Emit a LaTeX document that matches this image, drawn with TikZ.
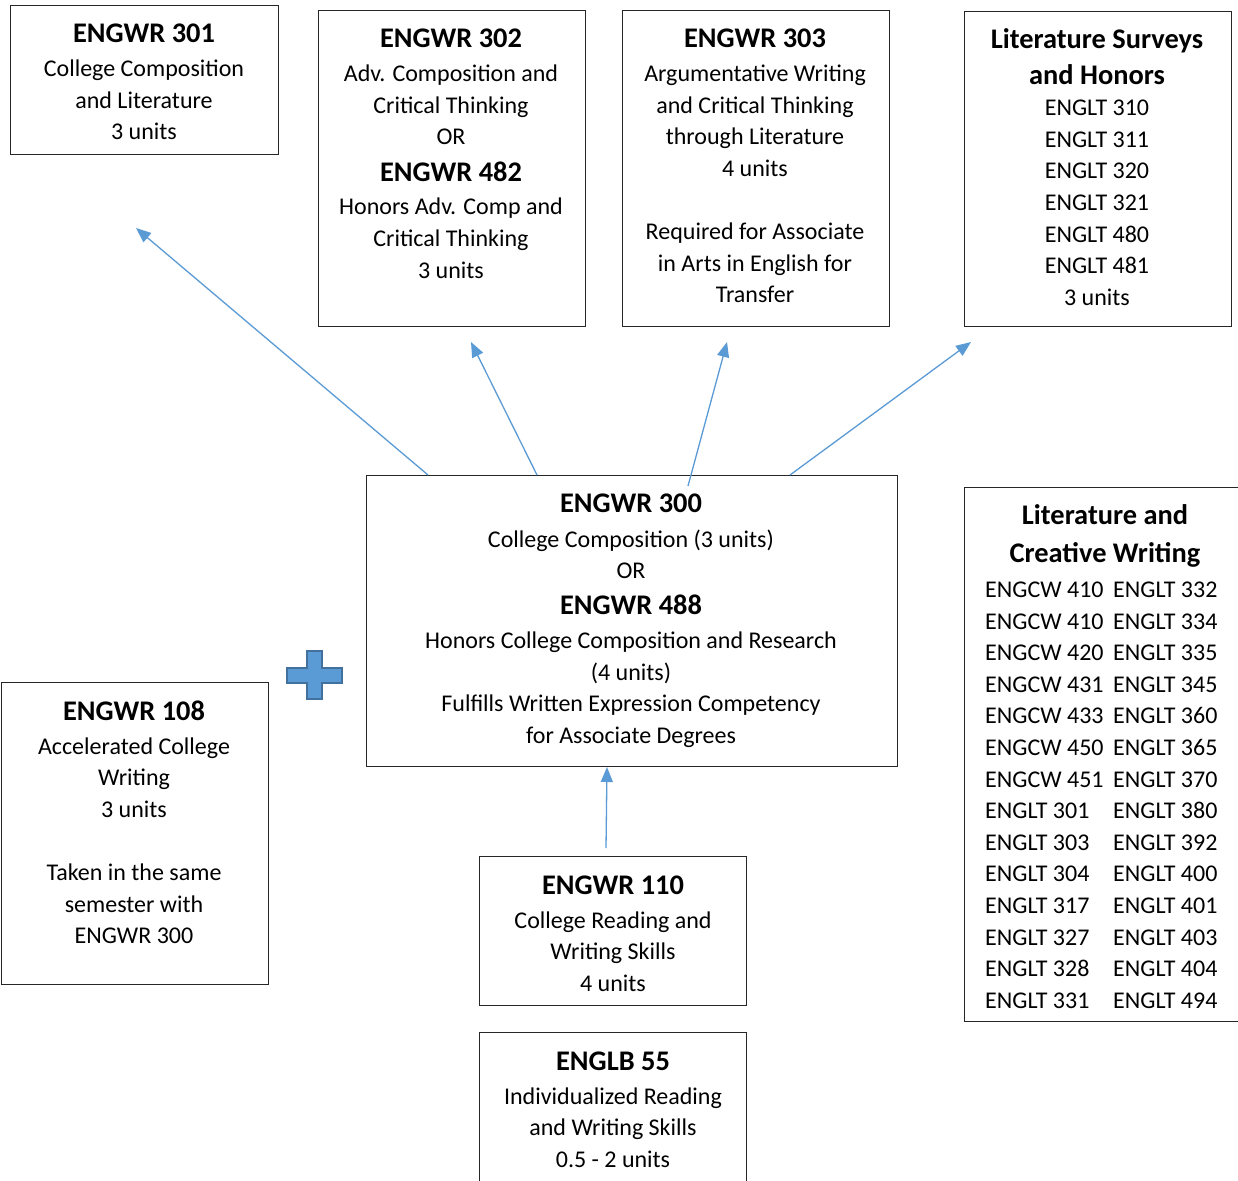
\documentclass[tikz,border=0pt]{standalone}
\usepackage{fontspec}
\setmainfont{Carlito}
\usetikzlibrary{arrows.meta}
\definecolor{arrowblue}{HTML}{5B9BD5}
\definecolor{plusedge}{HTML}{41719C}
\newcommand\hd{\fontsize{28.4}{31.6}\selectfont\bfseries}
\begin{document}
\begin{tikzpicture}[x=1pt,y=-1pt,
  box/.style={draw=black!85, line width=1.2pt, rectangle, anchor=north west, inner sep=0pt},
  txt/.style={inner sep=0pt, anchor=base, font=\fontsize{24}{31.6}\selectfont},
  col/.style={inner sep=0pt, anchor=base west, font=\fontsize{24}{31.6}\selectfont},
  link/.style={draw=arrowblue, line width=1.3pt, -{Triangle[length=15pt,width=12pt]}}]
\useasboundingbox (0,0) rectangle (1238,1180);
\clip (0,0) rectangle (1238,1180);
\fill[white] (0,0) rectangle (1238,1180);

% boxes
\node[box, minimum width=268pt, minimum height=149pt] (b301) at (10,5) {};
\node[box, minimum width=267pt, minimum height=316pt] (b302) at (318,10) {};
\node[box, minimum width=267pt, minimum height=316pt] (b303) at (622,10) {};
\node[box, minimum width=267pt, minimum height=315pt] (bsurv) at (964,11) {};
\node[box, minimum width=531pt, minimum height=291pt] (b300) at (366,475) {};
\node[box, minimum width=290pt, minimum height=534pt] (blcw) at (964,487) {};
\node[box, minimum width=267pt, minimum height=302pt] (b108) at (1,682) {};
\node[box, minimum width=267pt, minimum height=149pt] (b110) at (479,856) {};
\node[box, minimum width=267pt, minimum height=170pt] (b55) at (479,1032) {};

% texts
\node[txt] (t301) at (144,43) {\begin{tabular}[t]{@{}c@{}}{\hd ENGWR 301}\\[2pt]
College Composition\\ and Literature\\ 3 units\end{tabular}};

\node[txt] (t302) at (451,48) {\begin{tabular}[t]{@{}c@{}}{\hd ENGWR 302}\\[2pt]
Adv. Composition and\\ Critical Thinking\\ OR\\[5pt] {\hd ENGWR 482}\\[2pt]
Honors Adv. Comp and\\ Critical Thinking\\ 3 units\end{tabular}};

\node[txt] (t303) at (755,48) {\begin{tabular}[t]{@{}c@{}}{\hd ENGWR 303}\\[2pt]
Argumentative Writing\\ and Critical Thinking\\ through Literature\\ 4 units\\ \\
Required for Associate\\ in Arts in English for\\ Transfer\end{tabular}};

\node[txt] (tsurv) at (1097,49) {\begin{tabular}[t]{@{}c@{}}{\hd Literature Surveys}\\[4.4pt]
{\hd and Honors}\\[-1pt] ENGLT 310\\ ENGLT 311\\ ENGLT 320\\ ENGLT 321\\ ENGLT 480\\ ENGLT 481\\ 3 units\end{tabular}};

\node[txt] (t300) at (631,512) {\begin{tabular}[t]{@{}c@{}}{\hd ENGWR 300}\\[3.5pt]
College Composition (3 units)\\[-0.5pt] OR\\[5pt] {\hd ENGWR 488}\\[2pt]
Honors College Composition and Research\\ (4 units)\\
Fulfills Written Expression Competency\\ for Associate Degrees\end{tabular}};

\node[txt] (tlcw) at (1105,524) {\begin{tabular}[t]{@{}c@{}}{\hd Literature and}\\[6.4pt]
{\hd Creative Writing}\end{tabular}};
\node[col] (lcol) at (985,597.5) {\begin{tabular}[t]{@{}l@{}}ENGCW 410\\ ENGCW 410\\ ENGCW 420\\ ENGCW 431\\ ENGCW 433\\ ENGCW 450\\ ENGCW 451\\ ENGLT 301\\ ENGLT 303\\ ENGLT 304\\ ENGLT 317\\ ENGLT 327\\ ENGLT 328\\ ENGLT 331\end{tabular}};
\node[col] (rcol) at (1113,597.5) {\begin{tabular}[t]{@{}l@{}}ENGLT 332\\ ENGLT 334\\ ENGLT 335\\ ENGLT 345\\ ENGLT 360\\ ENGLT 365\\ ENGLT 370\\ ENGLT 380\\ ENGLT 392\\ ENGLT 400\\ ENGLT 401\\ ENGLT 403\\ ENGLT 404\\ ENGLT 494\end{tabular}};

\node[txt] (t108) at (134,720) {\begin{tabular}[t]{@{}c@{}}{\hd ENGWR 108}\\[2.5pt]
Accelerated College\\ Writing\\ 3 units\\ \\ Taken in the same\\ semester with\\ ENGWR 300\end{tabular}};

\node[txt] (t110) at (613,894) {\begin{tabular}[t]{@{}c@{}}{\hd ENGWR 110}\\[2.5pt]
College Reading and\\ Writing Skills\\ 4 units\end{tabular}};

\node[txt] (t55) at (613,1070) {\begin{tabular}[t]{@{}c@{}}{\hd ENGLB 55}\\[2.5pt]
Individualized Reading\\ and Writing Skills\\ 0.5 - 2 units\end{tabular}};

% plus sign
\filldraw[fill=arrowblue, draw=plusedge, line width=2pt]
  (307,651) -- (322,651) -- (322,668) -- (342,668) -- (342,683) -- (322,683)
  -- (322,699) -- (307,699) -- (307,683) -- (287,683) -- (287,668) -- (307,668) -- cycle;

% arrow end points
\coordinate (s1) at (428,475);
\coordinate (e1) at (136,228);
\coordinate (s2) at (537,475);
\coordinate (e2) at (471,342);
\coordinate (s3) at (688,486);
\coordinate (e3) at (727,342);
\coordinate (s4) at (790,475);
\coordinate (e4) at (971,342);
\coordinate (s5) at (606,848);
\coordinate (e5) at (607,767);

\draw[link] (s1) -- (e1);
\draw[link] (s2) -- (e2);
\draw[link] (s3) -- (e3);
\draw[link] (s4) -- (e4);
\draw[link] (s5) -- (e5);
\end{tikzpicture}
\end{document}
